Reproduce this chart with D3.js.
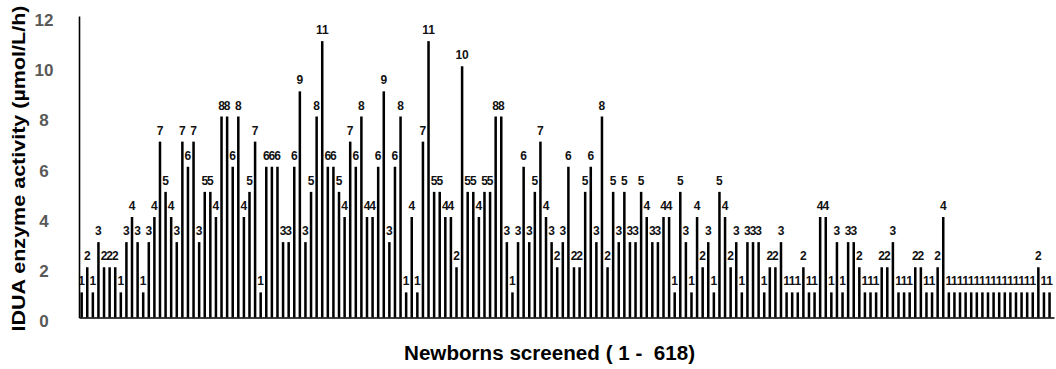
<!DOCTYPE html>
<html><head><meta charset="utf-8">
<script src="https://cdn.jsdelivr.net/npm/d3@7"></script>
<style>body{margin:0;background:#fff}svg{display:block}</style>
</head><body><svg id="c" width="1056" height="369"></svg>
<script>
const values = [
 1,2,1,3,2,2,2,1,3,4,3,1,3,4,7,5,4,3,7,6,7,3,5,5,4,8,8,6,8,4,5,7,1,6,
 6,6,3,3,6,9,3,5,8,11,6,6,5,4,7,6,8,4,4,6,9,3,6,8,1,4,1,7,11,5,5,4,4,2,
 10,5,5,4,5,5,8,8,3,1,3,6,3,5,7,4,3,2,3,6,2,2,5,6,3,8,2,5,3,5,3,3,5,4,
 3,3,4,4,1,5,3,1,4,2,3,1,5,4,2,3,1,3,3,3,1,2,2,3,1,1,1,2,1,1,4,4,1,3,
 1,3,3,2,1,1,1,2,2,3,1,1,1,2,2,1,1,2,4,
 1,1,1,1,1,1,1,1,1,1,1,1,1,1,1,1,2,1,1
];
const categories = values.map((v,i)=>i+1);
const yTicks = [0,2,4,6,8,10,12];
const xTitle = "Newborns screened ( 1 -  618)";
const yTitle = "IDUA enzyme activity (\u00b5mol/L/h)";

const svg = d3.select("#c");
const font = "'Liberation Sans', Arial, sans-serif";
const y = d3.scaleLinear().domain([0,12]).range([317.5,16]);
const x = d3.scaleBand().domain(categories).range([80.4,1050.8]).paddingInner(0.55).paddingOuter(0);

svg.append("g").selectAll("rect").data(values).join("rect")
  .attr("x",(d,i)=>x(categories[i]))
  .attr("width",x.bandwidth())
  .attr("y",d=>y(d))
  .attr("height",d=>y(0)-y(d))
  .attr("fill","#000");

svg.append("g").selectAll("text").data(values).join("text")
  .attr("x",(d,i)=>x(categories[i])+x.bandwidth()/2)
  .attr("y",d=>y(d)-7)
  .attr("text-anchor","middle")
  .attr("font-family",font).attr("font-weight","bold").attr("font-size","12px")
  .attr("fill","#111")
  .text(d=>d);

// axes
const yAxis = d3.axisLeft(y).tickValues(yTicks).tickSize(0).tickPadding(0);
const gy = svg.append("g").attr("transform","translate(79,0)").call(yAxis);
gy.select(".domain").attr("stroke","#000").attr("stroke-width",1.6);
gy.selectAll("text").attr("x",-35).attr("dy","0.55em").attr("text-anchor","middle")
  .attr("font-family",font).attr("font-weight","bold").attr("font-size","17px").attr("fill","#595959");

const xAxis = d3.axisBottom(d3.scaleLinear().range([79,1054])).tickValues([]).tickSizeOuter(0);
const gx = svg.append("g").attr("transform",`translate(0,${y(0)})`).call(xAxis);
gx.select(".domain").attr("stroke","#000").attr("stroke-width",1.6);

svg.append("text").attr("x",549.5).attr("y",359.5).attr("text-anchor","middle")
  .style("white-space","pre")
  .attr("font-family",font).attr("font-weight","bold").attr("font-size","20px").attr("fill","#000")
  .attr("textLength",291).attr("lengthAdjust","spacingAndGlyphs")
  .text(xTitle);
svg.append("text").attr("transform","translate(25,168.5) rotate(-90)").attr("text-anchor","middle")
  .attr("font-family",font).attr("font-weight","bold").attr("font-size","17.5px").attr("fill","#000")
  .attr("textLength",326).attr("lengthAdjust","spacingAndGlyphs")
  .text(yTitle);
</script></body></html>
